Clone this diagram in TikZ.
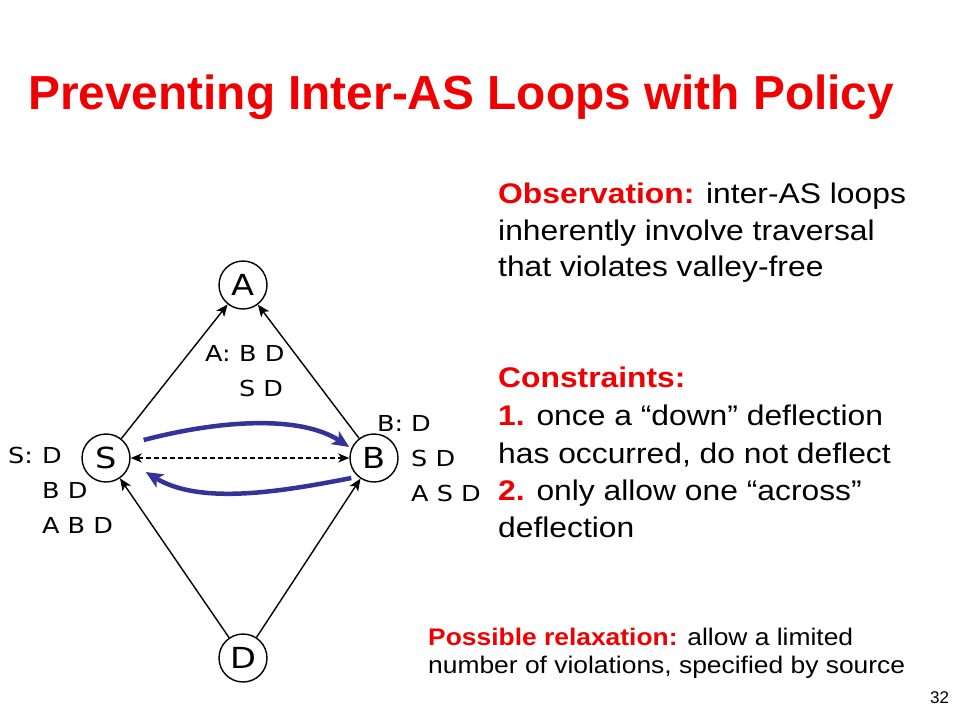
\documentclass[tikz,border=0pt]{standalone}
\usepackage{fontspec}
\setmainfont{Liberation Sans}
\newfontfamily\widesans[FakeStretch=1.12,Ligatures=TeX]{Liberation Sans}
\newfontfamily\notesans[FakeStretch=1.1,Ligatures=TeX]{Liberation Sans}
\newfontfamily\dejavu[FakeStretch=1.16]{DejaVu Sans}
\usetikzlibrary{arrows.meta}

\definecolor{slidered}{RGB}{240,0,0}
\definecolor{pathblue}{RGB}{51,51,153}

\tikzset{
  asnode/.style={circle, draw, line width=1.4pt, minimum size=48pt, inner sep=0pt,
    font=\dejavu\fontsize{29}{29}\selectfont},
  rib/.style={anchor=base west, inner sep=0pt, font=\dejavu\fontsize{22}{24}\selectfont},
  body/.style={anchor=base west, inner sep=0pt, font=\widesans\fontsize{28.4}{30}\selectfont},
  note/.style={anchor=base west, inner sep=0pt, font=\notesans\fontsize{24}{26}\selectfont},
  link/.style={line width=1.4pt, -{Stealth[length=12pt,width=10pt,inset=3pt]}},
  deflect/.style={pathblue, line width=4.5pt, -{Stealth[length=17pt,width=15pt,inset=4pt]}},
}

\begin{document}
\begin{tikzpicture}[x=1pt,y=-1pt]
\useasboundingbox (0,0) rectangle (960,720);

\node[anchor=base west, inner sep=0pt, text=slidered, font=\bfseries\fontsize{47.8}{50}\selectfont]
  (title) at (28,109) {Preventing Inter-AS Loops with Policy};

% AS graph
\node[asnode] (A) at (243,285) {A};
\node[asnode] (S) at (106,458) {S};
\node[asnode] (B) at (374,458) {B};
\node[asnode] (D) at (243,658) {D};

\foreach \from/\to in {S/A, B/A, D/S, D/B}
  \draw[link] (\from) -- (\to);
\draw[link, {Stealth[length=11pt,width=9pt,inset=3pt]}-{Stealth[length=11pt,width=9pt,inset=3pt]},
  dash pattern=on 5pt off 3pt] (S) -- (B);

% deflections
\draw[deflect] ([shift={(13,-18)}]S.east) .. controls (220,420) and (300,415) .. ([shift={(0,-11)}]B.west);
\draw[deflect] ([shift={(2,20)}]B.west) .. controls (280,492) and (200,505) .. ([shift={(15,14)}]S.east);

% routing tables
\node[rib] (ribA) at (205,361) {A:};
\foreach \r [count=\i from 0] in {B D, S D}
  \node[rib] (ribA\i) at (239,361+35*\i) {\r};
\node[rib] (ribB) at (377,431) {B:};
\foreach \r [count=\i from 0] in {D, S D, A S D}
  \node[rib] (ribB\i) at (411,431+35*\i) {\r};
\node[rib] (ribS) at (8,463) {S:};
\foreach \r [count=\i from 0] in {D, B D, A B D}
  \node[rib] (ribS\i) at (42,463+35*\i) {\r};

% text
\node[body] (obs1) at (498,203) {\textcolor{slidered}{\bfseries Observation:} inter-AS loops};
\node[body] (obs2) at (498,240) {inherently involve traversal};
\node[body] (obs3) at (498,276) {that violates valley-free};

\node[body] (con0) at (498,387) {\textcolor{slidered}{\bfseries Constraints:}};
\node[body] (con1) at (498,425) {\textcolor{slidered}{\bfseries 1.} once a “down” deflection};
\node[body] (con2) at (498,463) {has occurred, do not deflect};
\node[body] (con3) at (498,500) {\textcolor{slidered}{\bfseries 2.} only allow one “across”};
\node[body] (con4) at (498,537) {deflection};

\node[note] (rel1) at (428,645) {\textcolor{slidered}{\bfseries Possible relaxation:} allow a limited};
\node[note] (rel2) at (428,673) {number of violations, specified by source};

\node[anchor=base west, inner sep=0pt, font=\fontsize{17}{18}\selectfont] (page) at (930,703) {32};
\end{tikzpicture}
\end{document}
